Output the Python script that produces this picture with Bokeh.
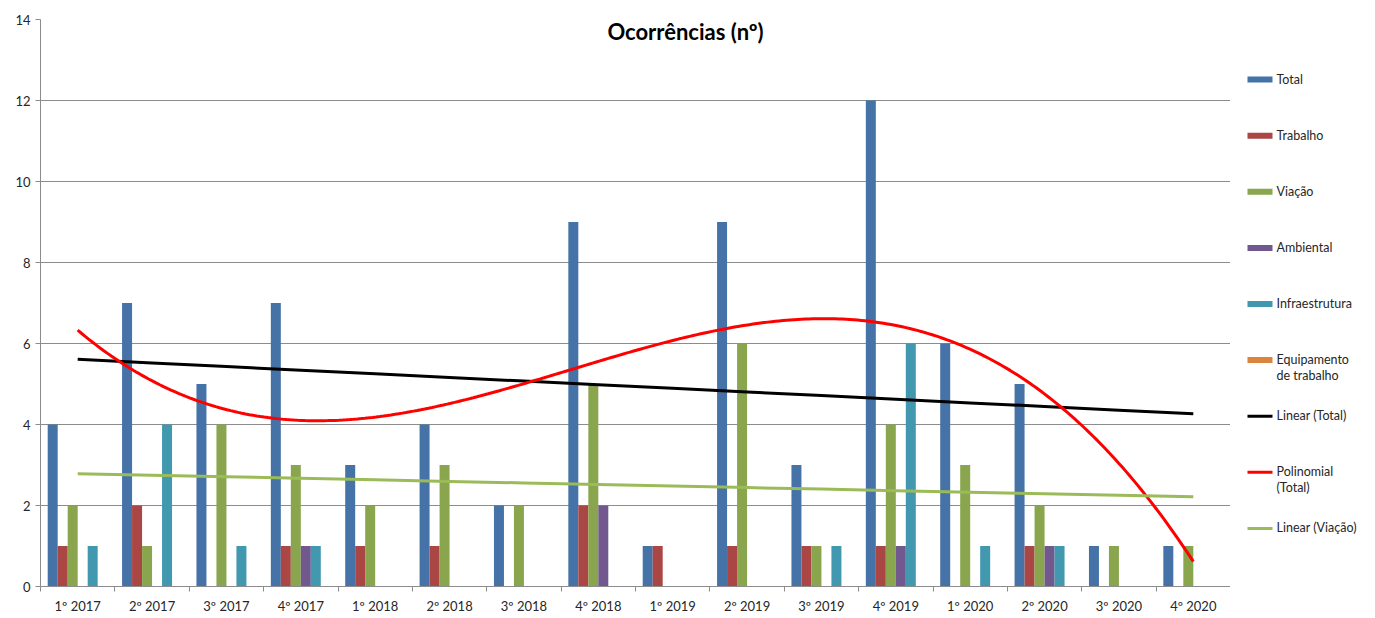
import numpy as np
from bokeh.plotting import figure
from bokeh.layouts import row
from bokeh.models import (ColumnDataSource, Range1d, FixedTicker, SingleIntervalTicker,
                          Label)
from bokeh.transform import dodge
from bokeh.core.properties import value
from bokeh.embed import file_html
from bokeh.resources import INLINE

# ---------------- data ----------------
categories = ["1º 2017", "2º 2017", "3º 2017", "4º 2017",
              "1º 2018", "2º 2018", "3º 2018", "4º 2018",
              "1º 2019", "2º 2019", "3º 2019", "4º 2019",
              "1º 2020", "2º 2020", "3º 2020", "4º 2020"]
total          = [4, 7, 5, 7, 3, 4, 2, 9, 1, 9, 3, 12, 6, 5, 1, 1]
trabalho       = [1, 2, 0, 1, 1, 1, 0, 2, 1, 1, 1, 1, 0, 1, 0, 0]
viacao         = [2, 1, 4, 3, 2, 3, 2, 5, 0, 6, 1, 4, 3, 2, 1, 1]
ambiental      = [0, 0, 0, 1, 0, 0, 0, 2, 0, 0, 0, 1, 0, 1, 0, 0]
infraestrutura = [1, 4, 1, 1, 0, 0, 0, 0, 0, 0, 1, 6, 1, 1, 0, 0]
equipamento    = [0, 0, 0, 0, 0, 0, 0, 0, 0, 0, 0, 0, 0, 0, 0, 0]

series_names = ["Total", "Trabalho", "Viação", "Ambiental", "Infraestrutura",
                "Equipamento\nde trabalho"]
series_values = [total, trabalho, viacao, ambiental, infraestrutura, equipamento]
series_colors = ["#4572A7", "#AA4643", "#89A54E", "#71588F", "#4198AF", "#DB843D"]
trend_names = ["Linear (Total)", "Polinomial\n(Total)", "Linear (Viação)"]
trend_colors = ["black", "#FF0000", "#9BBB59"]
y_ticks_step = 2
y_max = 14

FONT = "Lato"
TEXT = "#262626"
GRID = "#8C8C8C"

x = list(range(1, len(categories) + 1))
data = {"x": x}
for i, v in enumerate(series_values):
    data[f"s{i}"] = v
source = ColumnDataSource(data)

p = figure(width=1230, height=616, output_backend="svg", toolbar_location=None,
           x_range=Range1d(0.5, len(categories) + 0.5), y_range=Range1d(0, y_max),
           min_border_left=40, min_border_right=0, min_border_top=19,
           min_border_bottom=20)
p.outline_line_color = None
p.background_fill_color = "white"
p.border_fill_color = "white"

# axes
p.yaxis.ticker = SingleIntervalTicker(interval=y_ticks_step)
p.yaxis.axis_line_color = GRID
p.yaxis.major_tick_line_color = GRID
p.yaxis.major_tick_out = 5
p.yaxis.major_tick_in = 0
p.yaxis.minor_tick_line_color = None
p.yaxis.major_label_standoff = 5
p.yaxis.major_label_text_font = FONT
p.yaxis.major_label_text_font_size = "13px"
p.yaxis.major_label_text_color = TEXT

bounds = [i + 0.5 for i in range(len(categories) + 1)]
p.xaxis.ticker = FixedTicker(ticks=x, minor_ticks=bounds)
p.xaxis.major_label_overrides = {xi: c for xi, c in zip(x, categories)}
p.xaxis.axis_line_color = GRID
p.xaxis.major_tick_line_color = None
p.xaxis.major_tick_out = 0
p.xaxis.major_tick_in = 0
p.xaxis.minor_tick_line_color = GRID
p.xaxis.minor_tick_out = 5
p.xaxis.minor_tick_in = 0
p.xaxis.major_label_standoff = 6
p.xaxis.major_label_text_font = FONT
p.xaxis.major_label_text_font_size = "13px"
p.xaxis.major_label_text_color = TEXT

p.xgrid.grid_line_color = None
p.ygrid.ticker = SingleIntervalTicker(interval=y_ticks_step)
p.ygrid.grid_line_color = GRID
p.ygrid.grid_line_width = 1

# bars
bw = 0.1344
n = len(series_values)
for i, col in enumerate(series_colors):
    off = (i - (n - 1) / 2) * bw
    p.vbar(x=dodge("x", off, range=p.x_range), top=f"s{i}", width=bw,
           source=source, fill_color=col, line_color=None)

# trend lines (least-squares fits of the data, as in the original chart)
xs = np.array(x, dtype=float)
lin_t = np.polyfit(xs, np.array(total, float), 1)
lin_v = np.polyfit(xs, np.array(viacao, float), 1)
poly_t = np.polyfit(xs, np.array(total, float), 3)
xfine = np.linspace(xs[0], xs[-1], 300)

p.line(xs, np.polyval(lin_t, xs), line_color=trend_colors[0], line_width=3)
p.line(xfine, np.polyval(poly_t, xfine), line_color=trend_colors[1], line_width=3)
p.line(xs, np.polyval(lin_v, xs), line_color=trend_colors[2], line_width=3)

title = Label(x=645, y=555, x_units="screen", y_units="screen",
              text="Ocorrências (nº)", text_font=FONT, text_font_style="bold",
              text_font_size="22px", text_color="black",
              text_align="center", text_baseline="middle")
p.add_layout(title)

# ---------------- legend panel (right of the plot area) ----------------
# its frame is aligned with the plot frame; 1 y unit = 1 px (downwards)
LW, LH = 129, 616
lp = figure(width=LW, height=LH, output_backend="svg", toolbar_location=None,
            x_range=Range1d(0, LW), y_range=Range1d(586, 20),
            x_axis_location=None, y_axis_location=None, min_border=0)
lp.outline_line_color = None
lp.grid.visible = False
lp.background_fill_color = "white"
lp.border_fill_color = "white"

pitch, first, gx0, gw, tx = 56, 80, 17, 25, 46
nb = len(series_names)
bar_y = [first + pitch * i for i in range(nb)]
line_y = [first + pitch * (nb + i) for i in range(len(trend_names))]

lp.rect(x=[gx0 + gw / 2] * nb, y=bar_y, width=gw, height=6,
        fill_color=series_colors, line_color=None)
lp.segment(x0=[gx0] * len(line_y), y0=line_y, x1=[gx0 + gw] * len(line_y), y1=line_y,
           line_color=trend_colors, line_width=3)
lp.text(x=[tx] * (nb + len(trend_names)), y=[yy - 8 for yy in bar_y + line_y],
        text=series_names + trend_names, text_font=value(FONT),
        text_font_size="12.5px", text_color=TEXT, text_baseline="top",
        text_align="left", text_line_height=1.07)

layout = row(p, lp)
open("out.html", "w").write(file_html(layout, INLINE))
